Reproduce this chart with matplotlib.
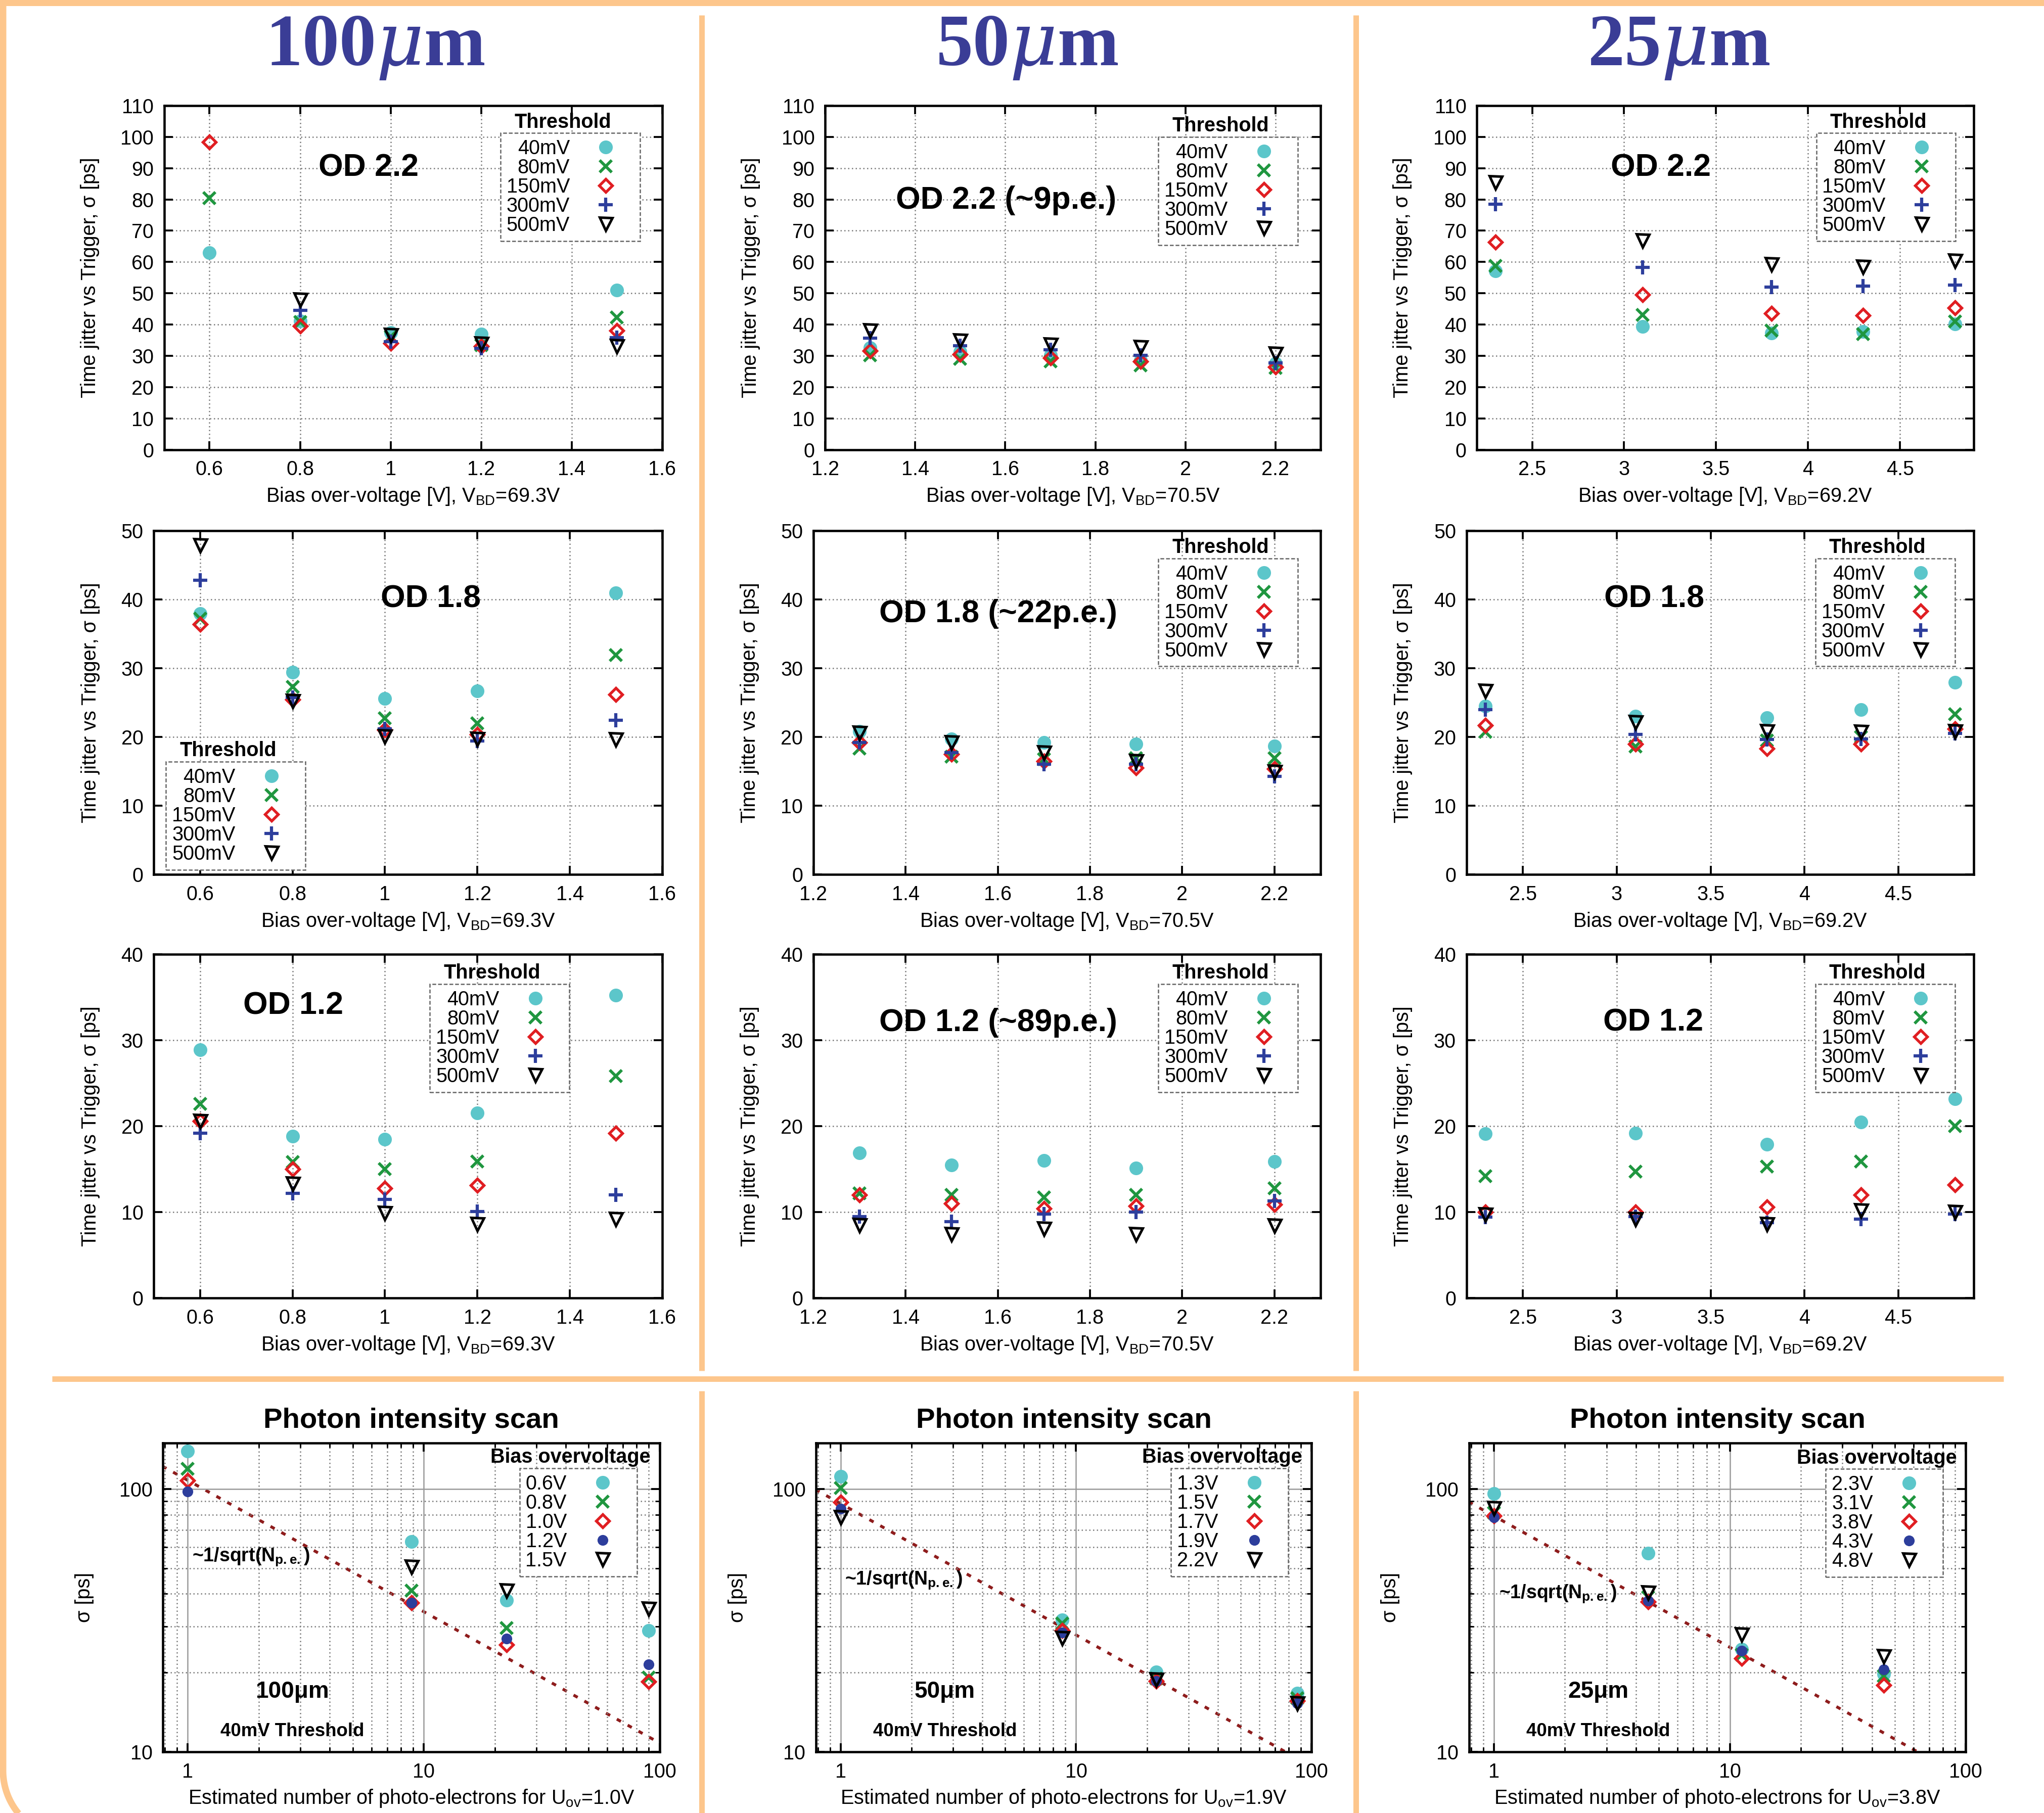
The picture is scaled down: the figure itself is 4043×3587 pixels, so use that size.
import numpy as np
import matplotlib
matplotlib.use('Agg')
import matplotlib.pyplot as plt
from matplotlib.lines import Line2D
from matplotlib.patches import Rectangle
from matplotlib.ticker import FixedLocator, FuncFormatter, NullFormatter, LogLocator

plt.rcParams['font.family'] = ['Liberation Sans', 'DejaVu Sans']
plt.rcParams['mathtext.fontset'] = 'custom'
plt.rcParams['mathtext.rm'] = 'Liberation Sans'
plt.rcParams['mathtext.sf'] = 'Liberation Sans:bold'
plt.rcParams['mathtext.it'] = 'DejaVu Serif:italic'
plt.rcParams['mathtext.bf'] = 'Liberation Serif:bold'

# ---------------- data ----------------
thresholds = ['40mV', '80mV', '150mV', '300mV', '500mV']

bias_100 = [0.6, 0.8, 1.0, 1.2, 1.5]
bias_50 = [1.3, 1.5, 1.7, 1.9, 2.2]
bias_25 = [2.3, 3.1, 3.8, 4.3, 4.8]

# rows: 40mV, 80mV, 150mV, 300mV, 500mV
od22_100um = [[63.0, 41.2, 37.4, 36.9, 51.0],
              [80.4, 40.8, 36.1, 33.4, 42.3],
              [98.3, 39.6, 34.0, 33.1, 38.0],
              [np.nan, 44.6, 34.5, 32.4, 35.8],
              [np.nan, 48.0, 36.7, 33.8, 33.1]]
od18_100um = [[37.9, 29.4, 25.6, 26.7, 40.9],
              [37.2, 27.3, 22.7, 22.0, 31.9],
              [36.4, 25.4, 21.0, 20.4, 26.2],
              [42.8, 25.7, 21.2, 19.4, 22.4],
              [47.8, 25.2, 20.1, 19.7, 19.6]]
od12_100um = [[28.9, 18.8, 18.5, 21.5, 35.2],
              [22.6, 15.8, 15.0, 15.9, 25.8],
              [20.6, 15.0, 12.8, 13.1, 19.2],
              [19.2, 12.2, 11.5, 10.1, 12.0],
              [20.6, 13.3, 9.9, 8.6, 9.2]]

od22_50um = [[32.6, 31.3, 30.2, 28.6, 27.5],
             [30.2, 29.1, 28.3, 27.0, 26.1],
             [31.6, 30.5, 29.4, 28.3, 26.4],
             [35.6, 33.2, 32.0, 30.2, 27.8],
             [38.0, 34.8, 33.6, 32.7, 30.7]]
od18_50um = [[20.8, 19.7, 19.2, 19.0, 18.7],
             [18.3, 17.1, 16.8, 16.9, 16.9],
             [19.2, 17.5, 16.5, 15.5, 15.4],
             [19.2, 17.7, 16.0, 16.0, 14.3],
             [20.6, 19.2, 17.7, 16.5, 14.9]]
od12_50um = [[16.9, 15.5, 16.0, 15.1, 15.9],
             [12.2, 12.0, 11.7, 12.0, 12.8],
             [12.0, 11.0, 10.4, 10.7, 10.9],
             [9.5, 8.9, 9.8, 10.0, 11.3],
             [8.5, 7.4, 8.1, 7.4, 8.4]]

od22_25um = [[57.2, 39.4, 37.2, 37.7, 40.2],
             [58.8, 43.1, 38.0, 37.0, 41.0],
             [66.3, 49.6, 43.5, 42.9, 45.3],
             [78.4, 58.2, 52.0, 52.3, 52.6],
             [85.5, 66.9, 59.3, 58.4, 60.4]]
od18_25um = [[24.5, 23.0, 22.8, 24.0, 27.9],
             [20.7, 18.6, 19.5, 20.0, 23.3],
             [21.7, 19.0, 18.3, 19.0, 21.2],
             [24.0, 20.4, 19.6, 19.7, 20.5],
             [26.7, 22.1, 20.8, 20.7, 20.8]]
od12_25um = [[19.1, 19.2, 17.9, 20.5, 23.2],
             [14.2, 14.7, 15.3, 15.9, 20.0],
             [10.0, 10.0, 10.6, 12.0, 13.2],
             [9.4, 9.5, 8.8, 9.2, 9.8],
             [9.7, 9.2, 8.6, 10.2, 10.0]]

# photon intensity scan (40mV threshold)
npe_100 = [1.0, 8.9, 22.5, 90.0]
npe_50 = [1.0, 8.75, 21.9, 87.0]
npe_25 = [1.0, 4.5, 11.2, 44.8]
bias_labels_100 = ['0.6V', '0.8V', '1.0V', '1.2V', '1.5V']
bias_labels_50 = ['1.3V', '1.5V', '1.7V', '1.9V', '2.2V']
bias_labels_25 = ['2.3V', '3.1V', '3.8V', '4.3V', '4.8V']
scan_100 = [[139.5, 63.0, 37.8, 29.0],
            [119.4, 41.0, 29.6, 19.2],
            [107.8, 37.0, 25.6, 18.5],
            [97.8, 37.0, 26.9, 21.5],
            [np.nan, 50.5, 41.0, 35.0]]
scan_50 = [[112.0, 31.8, 20.1, 16.7],
           [101.0, 30.8, 19.0, 16.0],
           [89.0, 29.0, 18.6, 15.6],
           [84.0, 28.4, 18.6, 15.3],
           [78.0, 27.1, 18.8, 15.3]]
scan_25 = [[96.1, 57.1, 24.6, 19.8],
           [81.3, 38.7, 23.4, 19.4],
           [79.2, 37.3, 22.7, 17.9],
           [78.0, 37.6, 24.2, 20.6],
           [84.7, 40.3, 27.9, 23.1]]
sqrt_coef = [108.0, 88.0, 79.0]   # sigma(1 p.e.) of the ~1/sqrt(N) guide lines

col_titles = ['100', '50', '25']
vbd = ['69.3V', '70.5V', '69.2V']
uov = ['1.0V', '1.9V', '3.8V']

# ---------------- style ----------------
CYAN = '#5cc6ca'
GREEN = '#1f963f'
RED = '#e01e22'
BLUE = '#2d3e9c'
ORANGE = '#fdc68c'
TITLE_BLUE = '#3a3d96'

th_styles = [
    dict(marker='o', ms=6.0, mfc=CYAN, mec=CYAN, mew=0.5),
    dict(marker='x', ms=5.6, mec=GREEN, mew=1.4),
    dict(marker='D', ms=4.5, mfc='none', mec=RED, mew=1.3),
    dict(marker='+', ms=6.5, mec=BLUE, mew=1.5),
    dict(marker='v', ms=6.0, mfc='none', mec='black', mew=1.2),
]
scan_styles = [th_styles[0], th_styles[1], th_styles[2],
               dict(marker='o', ms=4.6, mfc=BLUE, mec=BLUE, mew=0.5),
               th_styles[4]]

W, H = 4043, 3587
DPI = 300
fig = plt.figure(figsize=(W / DPI, H / DPI), dpi=DPI)
fig.patch.set_facecolor('white')

OW, OH = 1568.0, 1391.0


def rect(l, r, t, b):
    return [l / OW, 1 - b / OH, (r - l) / OW, (b - t) / OH]


TFS = 9.5   # tick labels
LFS = 9.5   # axis labels
GFS = 9.5   # legend
fmt_g = FuncFormatter(lambda v, p: f'{v:g}')


def style_axes(ax):
    for s in ax.spines.values():
        s.set_linewidth(1.1)
        s.set_color('black')
    ax.tick_params(which='both', direction='in', top=True, right=True,
                   labelsize=TFS, pad=5)
    ax.tick_params(which='major', length=4, width=0.9)
    ax.tick_params(which='minor', length=2.2, width=0.7)


def add_legend(ax, handles, labels, loc, anchor):
    leg = ax.legend(handles, labels, loc=loc, bbox_to_anchor=anchor,
                    markerfirst=False, frameon=True, fancybox=False,
                    fontsize=GFS, labelspacing=0.0, handlelength=2.8,
                    handletextpad=0.4, borderpad=0.3, borderaxespad=0.0,
                    framealpha=1.0, edgecolor='#666666', numpoints=1)
    fr = leg.get_frame()
    fr.set_linestyle((0, (3, 1.5)))
    fr.set_linewidth(0.6)
    return leg


legend_titles = []


def lin_panel(r, xs, data, xlim, xticks, ymax, vb, od_text, od_pos,
              leg_loc, leg_anchor):
    ax = fig.add_axes(r)
    handles = []
    for row, st in zip(data, th_styles):
        h, = ax.plot(xs, row, linestyle='none', **st)
        handles.append(h)
    ax.set_xlim(*xlim)
    ax.set_ylim(0, ymax)
    ax.xaxis.set_major_locator(FixedLocator(xticks))
    ax.yaxis.set_major_locator(FixedLocator(np.arange(0, ymax + 1, 10)))
    ax.xaxis.set_major_formatter(fmt_g)
    ax.yaxis.set_major_formatter(fmt_g)
    ax.grid(True, which='major', linestyle=(0, (1, 2)), color='#7a7a7a',
            linewidth=0.6)
    style_axes(ax)
    ax.set_ylabel('Time jitter vs Trigger, σ [ps]', fontsize=LFS, labelpad=10)
    ax.set_xlabel(f'Bias over-voltage [V], V$_{{\\rm BD}}$={vb}', fontsize=LFS,
                  labelpad=3)
    ax.text(od_pos[0], od_pos[1], od_text, transform=ax.transAxes,
            ha='center', va='center', fontsize=15, fontweight='bold')
    leg = add_legend(ax, handles, thresholds, leg_loc, leg_anchor)
    legend_titles.append((ax, leg, 'Threshold'))
    return ax


def log_panel(r, xs, data, labels, coef, uo, size_txt, sqrt_pos, anchor):
    ax = fig.add_axes(r)
    ax.set_xscale('log')
    ax.set_yscale('log')
    xl = np.logspace(np.log10(0.78), 2, 200)
    ax.plot(xl, coef / np.sqrt(xl), linestyle=(0, (1.6, 2.6)), color='#8e1c1c',
            linewidth=1.4, zorder=1)
    handles = []
    for row, st in zip(data, scan_styles):
        h, = ax.plot(xs, row, linestyle='none', zorder=3, **st)
        handles.append(h)
    ax.set_xlim(0.785, 100)
    ax.set_ylim(10, 150)
    ax.xaxis.set_major_locator(FixedLocator([1, 10, 100]))
    ax.yaxis.set_major_locator(FixedLocator([10, 100]))
    ax.xaxis.set_minor_locator(LogLocator(base=10, subs=np.arange(2, 10)))
    ax.yaxis.set_minor_locator(LogLocator(base=10, subs=np.arange(2, 10)))
    ax.xaxis.set_major_formatter(fmt_g)
    ax.yaxis.set_major_formatter(fmt_g)
    ax.xaxis.set_minor_formatter(NullFormatter())
    ax.yaxis.set_minor_formatter(NullFormatter())
    ax.grid(True, which='major', linestyle='-', color='#9a9a9a', linewidth=0.6)
    ax.grid(True, which='minor', linestyle=(0, (1, 2)), color='#7a7a7a',
            linewidth=0.6)
    style_axes(ax)
    ax.set_ylabel('σ [ps]', fontsize=LFS, labelpad=12)
    ax.set_xlabel(f'Estimated number of photo-electrons for U$_{{\\rm ov}}$={uo}',
                  fontsize=LFS, labelpad=3)
    ax.set_title('Photon intensity scan', fontsize=13.5, fontweight='bold', pad=7)
    ax.text(sqrt_pos[0], sqrt_pos[1], r'~1/sqrt(N$_{\mathsf{p.e.}}$)',
            transform=ax.transAxes, ha='left', va='center', fontsize=9,
            fontweight='bold')
    ax.text(0.26, 0.195, size_txt, transform=ax.transAxes, ha='center',
            va='center', fontsize=11, fontweight='bold')
    ax.text(0.26, 0.066, '40mV Threshold', transform=ax.transAxes, ha='center',
            va='center', fontsize=8.8, fontweight='bold')
    leg = add_legend(ax, handles, labels, 'upper right', anchor)
    legend_titles.append((ax, leg, 'Bias overvoltage'))
    return ax


xl100, xt100 = (0.5, 1.6), [0.6, 0.8, 1.0, 1.2, 1.4, 1.6]
xl50, xt50 = (1.2, 2.3), [1.2, 1.4, 1.6, 1.8, 2.0, 2.2]
xl25, xt25 = (2.2, 4.9), [2.5, 3.0, 3.5, 4.0, 4.5]

# Row 1 (OD 2.2)
lin_panel(rect(126, 508, 81, 345), bias_100, od22_100um, xl100, xt100, 110,
          vbd[0], 'OD 2.2', (0.41, 0.819), 'upper right', (0.955, 0.92))
lin_panel(rect(633, 1013, 81, 345), bias_50, od22_50um, xl50, xt50, 110,
          vbd[1], 'OD 2.2 (~9p.e.)', (0.365, 0.725), 'upper right', (0.954, 0.909))
lin_panel(rect(1133, 1514, 81, 345), bias_25, od22_25um, xl25, xt25, 110,
          vbd[2], 'OD 2.2', (0.37, 0.819), 'upper right', (0.964, 0.92))
# Row 2 (OD 1.8)
lin_panel(rect(118, 508, 407, 671), bias_100, od18_100um, xl100, xt100, 50,
          vbd[0], 'OD 1.8', (0.545, 0.801), 'lower left', (0.024, 0.014))
lin_panel(rect(624, 1013, 407, 671), bias_50, od18_50um, xl50, xt50, 50,
          vbd[1], 'OD 1.8 (~22p.e.)', (0.364, 0.758), 'upper right', (0.955, 0.919))
lin_panel(rect(1125, 1514, 407, 671), bias_25, od18_25um, xl25, xt25, 50,
          vbd[2], 'OD 1.8', (0.37, 0.801), 'upper right', (0.963, 0.919))
# Row 3 (OD 1.2)
lin_panel(rect(118, 508, 732, 996), bias_100, od12_100um, xl100, xt100, 40,
          vbd[0], 'OD 1.2', (0.274, 0.849), 'upper right', (0.817, 0.913))
lin_panel(rect(624, 1013, 732, 996), bias_50, od12_50um, xl50, xt50, 40,
          vbd[1], 'OD 1.2 (~89p.e.)', (0.364, 0.801), 'upper right', (0.955, 0.913))
lin_panel(rect(1125, 1514, 732, 996), bias_25, od12_25um, xl25, xt25, 40,
          vbd[2], 'OD 1.2', (0.368, 0.801), 'upper right', (0.963, 0.913))
# Row 4 (photon intensity scan)
log_panel(rect(125, 506, 1107, 1344), npe_100, scan_100, bias_labels_100,
          sqrt_coef[0], uov[0], '100μm', (0.059, 0.63), (0.954, 0.918))
log_panel(rect(626, 1006, 1107, 1344), npe_50, scan_50, bias_labels_50,
          sqrt_coef[1], uov[1], '50μm', (0.058, 0.555), (0.953, 0.918))
log_panel(rect(1127, 1508, 1107, 1344), npe_25, scan_25, bias_labels_25,
          sqrt_coef[2], uov[2], '25μm', (0.06, 0.51), (0.954, 0.916))

# column titles
for cx, t in zip([288, 788, 1288], col_titles):
    fig.text(cx / OW, 1 - 36 / OH, r'$\mathbf{' + t + r'}\mu\mathbf{m}$',
             ha='center', va='center', fontsize=35, color=TITLE_BLUE)

# legend titles placed above the dashed boxes
fig.canvas.draw()
for ax, leg, ttl in legend_titles:
    bb = leg.get_window_extent().transformed(ax.transAxes.inverted())
    ax.text((bb.x0 + bb.x1) / 2 - 0.015, bb.y1 + 0.004, ttl,
            transform=ax.transAxes, ha='center', va='bottom', fontsize=GFS,
            fontweight='bold')

# ---------------- orange frame decorations ----------------
def hline_px(y, x0, x1, lw_px):
    fig.add_artist(Line2D([x0 / W, x1 / W], [1 - y / H, 1 - y / H],
                          transform=fig.transFigure, color=ORANGE,
                          linewidth=lw_px * 72 / DPI, solid_capstyle='butt'))


def vline_px(x, y0, y1, lw_px):
    fig.add_artist(Line2D([x / W, x / W], [1 - y0 / H, 1 - y1 / H],
                          transform=fig.transFigure, color=ORANGE,
                          linewidth=lw_px * 72 / DPI, solid_capstyle='butt'))


fig.add_artist(Rectangle((0, 1 - 12 / H), 1, 12 / H, transform=fig.transFigure,
                         facecolor=ORANGE, edgecolor='none'))
# left border with rounded bottom corner
R, yc = 133.0, 3503.0
th = np.linspace(np.pi, np.pi + 0.7, 30)
ax_pts = [6.0] + list(6 + R + R * np.cos(th))
ay_pts = [0.0] + list(yc - R * np.sin(th))
fig.add_artist(Line2D(np.array(ax_pts) / W, 1 - np.array(ay_pts) / H,
                      transform=fig.transFigure, color=ORANGE,
                      linewidth=13 * 72 / DPI, solid_capstyle='butt'))
for x in [1388, 2682]:
    vline_px(x, 30, 2712, 11)
    vline_px(x, 2752, H, 11)
hline_px(2728, 103, 3963, 11)

fig.savefig('out.png', dpi=DPI, facecolor='white')
